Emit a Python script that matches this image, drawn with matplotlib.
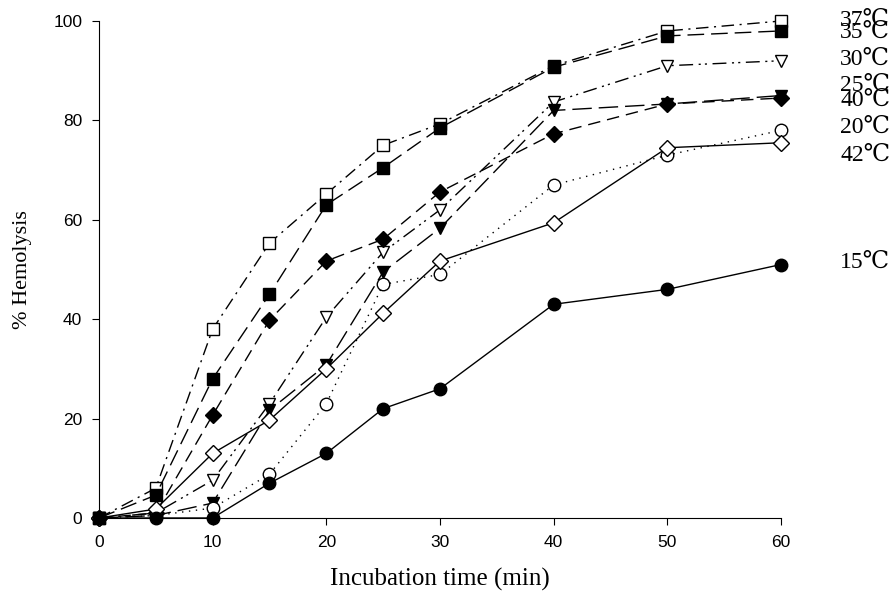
import matplotlib
matplotlib.use("Agg")
import matplotlib.pyplot as plt

time = [0, 5, 10, 15, 20, 25, 30, 40, 50, 60]
t37 = [0, 6, 38, 55.3, 65.2, 75, 79.3, 91, 98, 100]
t35 = [0, 4.6, 28, 45, 63, 70.5, 78.5, 90.7, 97, 98]
t30 = [0, 1, 7.6, 23, 40.4, 53.5, 62, 83.7, 91, 92]
t25 = [0, 0.5, 3, 21.7, 30.8, 49.5, 58.3, 82, 83.3, 85]
t40 = [0, 1, 20.7, 39.8, 51.7, 56.1, 65.6, 77.3, 83.3, 84.5]
t20 = [0, 0.5, 2, 8.8, 23, 47, 49, 67, 73, 78]
t42 = [0, 1.8, 13, 19.7, 30, 41.2, 51.7, 59.4, 74.5, 75.5]
t15 = [0, 0, 0, 7, 13, 22, 26, 43, 46, 51]
labels = ["37℃", "35℃", "30℃", "25℃", "40℃", "20℃", "42℃", "15℃"]
label_y = [100.2, 97.8, 92.2, 87.1, 84.1, 78.6, 73.0, 51.5]
xticks = [0, 10, 20, 30, 40, 50, 60]
yticks = [0, 20, 40, 60, 80, 100]

fig = plt.figure(figsize=(8.94, 5.98), dpi=100)
ax = fig.add_axes([0.1107, 0.1338, 0.7629, 0.8311])

serif = ['Liberation Serif', 'DejaVu Serif']
series = [
    (t37, 's', 'white', (0, (9, 4, 1.5, 4))),
    (t35, 's', 'black', (0, (12, 5))),
    (t30, 'v', 'white', (0, (10, 4, 1.5, 3, 1.5, 4))),
    (t25, 'v', 'black', (0, (14, 5))),
    (t40, 'D', 'black', (0, (9, 5))),
    (t20, 'o', 'white', (0, (1, 4))),
    (t42, 'D', 'white', '-'),
    (t15, 'o', 'black', '-'),
]
for vals, m, fc, ls in series:
    ms = 8 if m == 'D' else 9
    ax.plot(time, vals, color='black', lw=1.0, linestyle=ls, marker=m,
            markersize=ms, markerfacecolor=fc, markeredgecolor='black',
            markeredgewidth=1.0, clip_on=False)

for lab, y in zip(labels, label_y):
    ax.text(65.2, y, lab, fontsize=17, family=serif, va='center', ha='left',
            clip_on=False)

ax.set_xlim(0, 60)
ax.set_ylim(0, 100)
ax.set_xticks(xticks)
ax.set_yticks(yticks)
for s in ['top', 'right']:
    ax.spines[s].set_visible(False)
ax.tick_params(direction='out', length=5, labelsize=12.5, pad=7)
for lab in ax.get_xticklabels() + ax.get_yticklabels():
    lab.set_family(['Liberation Sans', 'DejaVu Sans'])
ax.set_xlabel("Incubation time (min)", fontsize=18, family=serif, labelpad=13)
ax.set_ylabel("% Hemolysis", fontsize=16, family=serif, labelpad=15)

fig.savefig("out.png", dpi=100)
